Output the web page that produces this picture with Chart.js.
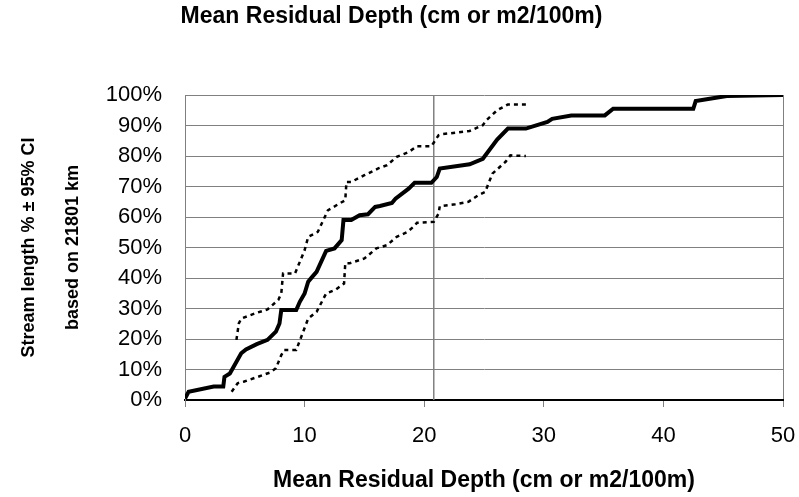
<!DOCTYPE html>
<html lang="en">
<head>
    <meta charset="UTF-8">
    <title>Mean Residual Depth</title>
    <script src="https://cdn.jsdelivr.net/npm/chart.js"></script>
    <style>
        body {
            margin: 0;
            background: #fff;
        }
        .wrap {
            width: 799px;
            height: 497px;
        }
    </style>
</head>
<body>
    <div class="wrap">
        <canvas id="depthChart" width="799" height="497"></canvas>
    </div>

    <script>
        // Cumulative distribution (% of stream length)
        const meanX = [0, 0.3, 2.4, 3.2, 3.3, 3.75, 4.7, 5.1, 6.0, 6.9, 7.6, 7.9, 8.05, 9.3, 9.6,
            10.0, 10.3, 10.6, 11.0, 11.8, 12.5, 13.1, 13.25, 13.9, 14.6, 15.3, 15.9, 16.3, 17.3, 17.6,
            18.7, 19.2, 20.6, 21.05, 21.3, 23.8, 24.9, 26.1, 27.0, 28.5, 30.3, 30.7, 32.3, 35.1, 35.8,
            42.5, 42.7, 45.3, 50];
        const meanY = [0.5, 2.7, 4.4, 4.4, 7.6, 8.7, 15.3, 16.6, 18.3, 19.7, 22.4, 25.1, 29.5, 29.5, 32.2,
            34.9, 38.8, 40.2, 42.0, 48.9, 49.7, 52.4, 59.0, 59.0, 60.6, 60.9, 63.3, 63.6, 64.6, 66.0,
            69.3, 71.2, 71.2, 73.1, 75.9, 77.3, 79.1, 85.4, 89.0, 89.0, 91.2, 92.2, 93.3, 93.3, 95.5,
            95.5, 98.0, 99.7, 100];

        const upperX = [4.3, 4.5, 4.7, 6.0, 6.9, 7.8, 8.05, 8.2, 9.2, 10.0, 10.3, 11.1, 11.95, 12.9, 13.4,
            13.5, 13.9, 15.0, 16.2, 16.9, 17.7, 18.7, 19.4, 20.6, 21.2, 21.4, 23.8, 24.9, 25.2, 26.1,
            27.0, 28.5];
        const upperY = [19.7, 25.1, 26.7, 28.6, 29.7, 32.8, 34.9, 41.5, 41.5, 49.1, 53.5, 55.1, 62.2, 64.4, 65.5,
            71.5, 71.5, 73.7, 76.0, 77.0, 79.7, 81.3, 83.2, 83.2, 86.8, 87.1, 88.2, 90.1, 91.7, 95.0,
            96.9, 96.9];

        const lowerX = [3.9, 4.4, 4.9, 6.1, 7.1, 7.6, 8.05, 8.3, 9.3, 10.3, 11.0, 11.8, 12.6, 13.3, 13.4,
            13.75, 15.0, 16.0, 16.9, 17.7, 18.6, 19.1, 19.4, 20.8, 21.2, 21.3, 22.6, 23.7, 24.5, 25.1,
            25.7, 26.8, 27.2, 28.5];
        const lowerY = [2.7, 5.5, 6.0, 7.6, 9.0, 10.4, 14.7, 16.4, 16.4, 26.7, 28.9, 34.9, 36.2, 38.2, 44.8,
            44.8, 46.4, 49.7, 50.8, 53.5, 55.1, 56.8, 58.1, 58.4, 61.1, 63.5, 64.2, 65.0, 67.1, 68.2,
            74.2, 78.1, 80.2, 80.0];

        // vertical reference line (mean depth)
        const refLineX = 20.8;

        const xTicks = [0, 10, 20, 30, 40, 50];
        const yTicks = [0, 10, 20, 30, 40, 50, 60, 70, 80, 90, 100];

        const titleText = 'Mean Residual Depth (cm or m2/100m)';
        const yTitle = ['Stream length % \u00b1 95% CI', 'based on 21801 km'];

        function zip(xs, ys) {
            return xs.map((x, i) => ({ x: x, y: ys[i] }));
        }

        Chart.defaults.font.family = "'Liberation Sans', Arial, sans-serif";
        Chart.defaults.color = '#000';

        new Chart(document.getElementById('depthChart'), {
            type: 'line',
            data: {
                datasets: [
                    {
                        label: 'Mean',
                        data: zip(meanX, meanY),
                        borderColor: '#000',
                        borderWidth: 4,
                        pointRadius: 0,
                        tension: 0
                    },
                    {
                        label: 'Upper 95% CI',
                        data: zip(upperX, upperY),
                        borderColor: '#000',
                        borderWidth: 2.5,
                        borderDash: [4, 4],
                        pointRadius: 0,
                        tension: 0
                    },
                    {
                        label: 'Lower 95% CI',
                        data: zip(lowerX, lowerY),
                        borderColor: '#000',
                        borderWidth: 2.5,
                        borderDash: [4, 4],
                        pointRadius: 0,
                        tension: 0
                    },
                    {
                        label: 'ref',
                        data: [{ x: refLineX, y: yTicks[0] }, { x: refLineX, y: yTicks[yTicks.length - 1] }],
                        borderColor: '#808080',
                        borderWidth: 1.5,
                        pointRadius: 0
                    }
                ]
            },
            options: {
                responsive: false,
                animation: false,
                devicePixelRatio: 1,
                layout: {
                    padding: { left: 0, right: 16, top: 0, bottom: 0 }
                },
                scales: {
                    x: {
                        type: 'linear',
                        min: xTicks[0],
                        max: xTicks[xTicks.length - 1],
                        afterBuildTicks: function(scale) {
                            scale.ticks = xTicks.map(v => ({ value: v }));
                        },
                        afterFit: function(scale) {
                            // keep the plot's right edge where the original has it
                            scale.paddingRight = 16;
                        },
                        grid: {
                            color: ctx => ctx.tick && ctx.tick.value === 50 ? '#808080' : 'rgba(0,0,0,0)',
                            tickColor: '#808080',
                            tickLength: 7,
                            lineWidth: 1
                        },
                        border: { color: '#000', width: 2 },
                        ticks: {
                            font: { size: 22 },
                            padding: 16,
                            maxRotation: 0
                        },
                        title: {
                            display: true,
                            text: titleText,
                            font: { size: 23, weight: 'bold' },
                            padding: { top: 1, bottom: 3 }
                        }
                    },
                    y: {
                        min: yTicks[0],
                        max: yTicks[yTicks.length - 1],
                        afterBuildTicks: function(scale) {
                            scale.ticks = yTicks.map(v => ({ value: v }));
                        },
                        afterFit: function(scale) {
                            scale.width = 185;
                        },
                        grid: {
                            color: ctx => ctx.tick && ctx.tick.value === 0 ? 'rgba(0,0,0,0)' : '#808080',
                            drawTicks: false,
                            lineWidth: 1
                        },
                        border: { color: '#808080', width: 1 },
                        ticks: {
                            font: { size: 22 },
                            padding: 23,
                            callback: v => v + '%'
                        },
                        title: {
                            display: true,
                            text: yTitle,
                            font: { size: 18, weight: 'bold', lineHeight: 44 / 18 },
                            padding: { top: 7, bottom: 0 }
                        }
                    }
                },
                plugins: {
                    legend: { display: false },
                    tooltip: { enabled: false },
                    title: {
                        display: true,
                        text: titleText,
                        color: '#000',
                        font: { size: 23, weight: 'bold' },
                        padding: { top: 3, bottom: 64.4 }
                    }
                }
            }
        });
    </script>
</body>
</html>
